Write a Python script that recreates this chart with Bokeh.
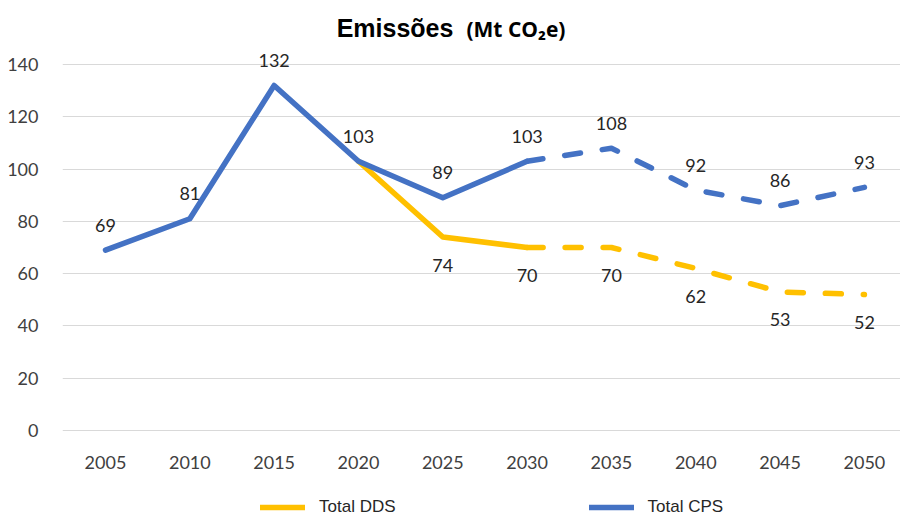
from bokeh.plotting import figure
from bokeh.layouts import column
from bokeh.models import Range1d, FixedTicker, Label, Legend, LegendItem, ColumnDataSource
from bokeh.embed import file_html
from bokeh.resources import INLINE
from bokeh.core.properties import value

# ---- data ----
years = [2005, 2010, 2015, 2020, 2025, 2030, 2035, 2040, 2045, 2050]
cps_values = [69, 81, 132, 103, 89, 103, 108, 92, 86, 93]
dds_values = [None, None, None, 103, 74, 70, 70, 62, 53, 52]
dds_label_from = 2025
projection_start = 2030
y_ticks = [0, 20, 40, 60, 80, 100, 120, 140]
series_names = ["Total DDS", "Total CPS"]

BLUE = "#4472C4"
YELLOW = "#FFC000"
LABEL_FONT = "Lato"


def split(xs, vs, cut):
    solid = [(x, v) for x, v in zip(xs, vs) if v is not None and x <= cut]
    dashed = [(x, v) for x, v in zip(xs, vs) if v is not None and x >= cut]
    s = dict(x=[a for a, _ in solid], y=[b for _, b in solid])
    d = dict(x=[a for a, _ in dashed], y=[b for _, b in dashed])
    return s, d


p = figure(width=900, height=490, output_backend="svg", toolbar_location=None,
           x_range=Range1d(2002.45, 2052.14), y_range=Range1d(-0.77, 164.5),
           min_border_left=62, min_border_right=0, min_border_top=0,
           min_border_bottom=58)
p.outline_line_color = None
p.background_fill_color = "white"
p.border_fill_color = "white"
p.xgrid.visible = False
p.ygrid.grid_line_color = "#D9D9D9"
p.ygrid.grid_line_width = 1
p.yaxis.ticker = FixedTicker(ticks=y_ticks)
p.xaxis.ticker = FixedTicker(ticks=years)
for ax in (p.xaxis, p.yaxis):
    ax.axis_line_color = None
    ax.major_tick_line_color = None
    ax.minor_tick_line_color = None
    ax.major_label_text_font = LABEL_FONT
    ax.major_label_text_font_size = "18px"
    ax.major_label_text_color = "#404040"
p.yaxis.major_label_standoff = 18
p.xaxis.major_label_standoff = 17

common = dict(line_width=5.5, line_cap="round", line_join="round")

dds_s, dds_d = split(years, dds_values, projection_start)
cps_s, cps_d = split(years, cps_values, projection_start)
src_dds_s, src_dds_d = ColumnDataSource(dds_s), ColumnDataSource(dds_d)
src_cps_s, src_cps_d = ColumnDataSource(cps_s), ColumnDataSource(cps_d)

p.line(x="x", y="y", source=src_dds_s, line_color=YELLOW, **common)
p.line(x="x", y="y", source=src_dds_d, line_color=YELLOW, line_dash="16 22", **common)
p.line(x="x", y="y", source=src_cps_s, line_color=BLUE, **common)
p.line(x="x", y="y", source=src_cps_d, line_color=BLUE, line_dash="16 22", **common)

# data labels
cps_lab = ColumnDataSource(dict(x=years, y=cps_values, t=[str(v) for v in cps_values]))
dds_pts = [(x, v) for x, v in zip(years, dds_values) if v is not None and x >= dds_label_from]
dds_lab = ColumnDataSource(dict(x=[a for a, _ in dds_pts], y=[b for _, b in dds_pts],
                                t=[str(b) for _, b in dds_pts]))
p.text(x="x", y="y", text="t", source=cps_lab, y_offset=-25, text_align="center",
       text_baseline="middle", text_font=value(LABEL_FONT), text_font_size="18px",
       text_color="#262626")
p.text(x="x", y="y", text="t", source=dds_lab, y_offset=28, text_align="center",
       text_baseline="middle", text_font=value(LABEL_FONT), text_font_size="18px",
       text_color="#262626")

# title
p.add_layout(Label(x=2025.63, y=153.8, text="Emissões", text_align="right",
                   text_baseline="middle", text_font="Liberation Sans", text_font_style="bold",
                   text_font_size="25px", text_color="black"))
p.add_layout(Label(x=2026.4, y=153.5, text="(Mt CO₂e)", text_align="left",
                   text_baseline="middle", text_font="Open Sans", text_font_style="bold",
                   text_font_size="21px", text_color="black"))

# ---- legend strip (its lines fall outside this strip's ranges; only the legend shows) ----
lg = figure(width=900, height=26, output_backend="svg", toolbar_location=None,
            x_range=Range1d(0, 1), y_range=Range1d(0, 1),
            min_border_left=0, min_border_right=0, min_border_top=0, min_border_bottom=0)
lg.axis.visible = False
lg.grid.visible = False
lg.outline_line_color = None
lg.border_fill_color = "white"
ld = lg.line(x="x", y="y", source=src_dds_s, line_color=YELLOW, line_width=5.5, line_cap="round")
lc = lg.line(x="x", y="y", source=src_cps_s, line_color=BLUE, line_width=5.5, line_cap="round")
legend = Legend(items=[LegendItem(label=series_names[0], renderers=[ld]),
                       LegendItem(label=series_names[1], renderers=[lc])],
                orientation="horizontal", location=(198, -1), glyph_width=45,
                label_standoff=14, spacing=193, padding=0, margin=0,
                border_line_color=None, background_fill_alpha=0,
                label_text_font="Liberation Sans", label_text_font_size="17px",
                label_text_color="#262626")
lg.add_layout(legend, "center")

layout = column(p, lg, spacing=0)
open("out.html", "w").write(file_html(layout, INLINE))
